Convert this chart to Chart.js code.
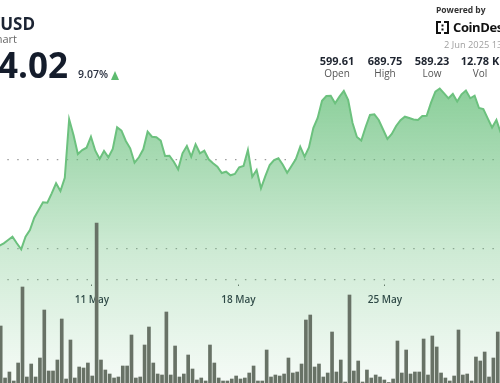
<!DOCTYPE html>
<html><head><meta charset="utf-8">
<script src="https://cdn.jsdelivr.net/npm/chart.js@4/dist/chart.umd.min.js"></script>
<style>
html,body{margin:0;padding:0;background:#fff;overflow:hidden;width:500px;height:383px;}
#wrap{position:relative;width:500px;height:383px;overflow:hidden;font-family:"Open Sans",sans-serif;line-height:1;}
#c{position:absolute;left:0;top:0;}
.t{position:absolute;white-space:nowrap;line-height:1;}
.val{position:absolute;width:50px;text-align:center;font-size:11px;font-weight:700;color:#1f2530;top:54.5px;}
.lab{position:absolute;width:50px;text-align:center;font-size:10px;color:#555;top:67.6px;}
</style></head><body>
<div id="wrap">
<canvas id="c" width="500" height="383"></canvas>
<div class="t" style="right:465px;top:15.3px;font-size:17px;font-weight:700;color:#1c2433;">BNB/USD</div>
<div class="t" style="right:483px;top:32.9px;font-size:11px;color:#666;">BNB Price Chart</div>
<div class="t" style="right:432px;top:47.2px;font-size:35px;font-weight:700;color:#141c2b;">654.02</div>
<div class="t" style="left:78px;top:69px;font-size:10.5px;font-weight:600;color:#2a3140;">9.07%</div>
<div class="t" style="left:111px;top:71px;width:0;height:0;border-left:4.5px solid transparent;border-right:4.5px solid transparent;border-bottom:9px solid #5dbb6f;"></div>
<div class="t" style="left:436px;top:5.8px;font-size:8.5px;font-weight:700;color:#333;">Powered by</div>
<svg class="t" style="left:436px;top:21px;" width="13" height="13" viewBox="0 0 13 13">
<rect x="0" y="0" width="2" height="13" fill="#111"/><rect x="0" y="0" width="5" height="2" fill="#111"/><rect x="0" y="11" width="5" height="2" fill="#111"/>
<rect x="11" y="0" width="2" height="13" fill="#111"/><rect x="8" y="0" width="5" height="2" fill="#111"/><rect x="8" y="11" width="5" height="2" fill="#111"/>
<rect x="5.5" y="3.5" width="2" height="2" fill="#111"/><rect x="5.5" y="7.5" width="2" height="2" fill="#111"/>
</svg>
<div class="t" style="left:453px;top:20.8px;font-size:13px;font-weight:700;color:#111;letter-spacing:-0.4px;">CoinDesk</div>
<div class="t" style="left:444px;top:40px;font-size:9.3px;color:#a0a0a0;">2 Jun 2025 13:00 UTC</div>
<div class="val" style="left:312px;">599.61</div>
<div class="val" style="left:360px;">689.75</div>
<div class="val" style="left:407px;">589.23</div>
<div class="val" style="left:455px;">12.78 K</div>
<div class="lab" style="left:312px;">Open</div>
<div class="lab" style="left:360px;">High</div>
<div class="lab" style="left:407px;">Low</div>
<div class="lab" style="left:455px;">Vol</div>
</div>
<script>
// ---- data ----
const HOUR = 3600e3;
const STEP_HOURS = 5;
const priceStart = Date.UTC(2025, 4, 6, 13, 48);   // first plotted price point
const volumeStart = Date.UTC(2025, 4, 6, 15, 18);  // first plotted volume bar
const prices = [
  601.46, 602.81, 604.66, 606.52, 602.81, 599.44, 606.52, 610.28, 617.19, 621.52,
  625.84, 625.62, 630.90, 636.52, 632.19, 639.66, 672.47, 663.65, 652.98, 655.22,
  656.52, 662.70, 654.83, 650.17, 654.66, 651.12, 655.79, 667.98, 666.07, 660.28,
  656.18, 648.09, 651.12, 655.62, 665.51, 662.70, 662.40, 660.45, 651.85, 652.02,
  648.65, 644.38, 653.37, 657.47, 651.46, 658.43, 653.37, 654.83, 650.00, 647.75,
  645.84, 642.30, 643.03, 641.01, 641.74, 645.51, 646.24, 655.22, 640.22, 643.99,
  633.71, 640.50, 646.80, 649.61, 650.56, 646.90, 642.47, 646.24, 650.10, 657.08,
  651.46, 656.63, 667.58, 673.20, 682.92, 685.56, 685.73, 681.46, 685.17, 688.37,
  683.31, 670.39, 662.53, 660.56, 668.15, 674.89, 675.28, 672.08, 666.74, 661.40,
  664.21, 668.71, 672.00, 673.93, 673.20, 672.36, 672.08, 674.33, 674.49, 681.80,
  687.98, 689.75, 687.08, 684.27, 686.69, 682.47, 686.50, 688.65, 684.30, 685.73,
  678.82, 678.26, 673.03, 667.87, 672.10, 664.78
];
const volumes = [
  57, 5, 11, 2, 20, 96, 6, 19, 6, 25,
  73, 12, 12, 23, 64, 4, 43, 5, 16, 15,
  20, 7, 160, 23, 13, 9, 5, 6, 17, 17,
  48, 5, 6, 38, 56, 20, 9, 8, 71, 8,
  37, 6, 9, 28, 14, 3, 5, 2, 38, 20,
  5, 2, 2, 4, 7, 4, 5, 10, 17, 2,
  2, 33, 6, 8, 7, 9, 25, 10, 11, 19,
  63, 68, 16, 19, 6, 10, 51, 11, 23, 1,
  88, 12, 22, 1, 13, 5, 8, 6, 3, 0.5,
  4, 42, 10, 33, 9, 11, 11, 44, 8, 47,
  36, 10, 5, 2, 7, 53, 8, 9, 2, 26,
  22, 31, 6, 25, 51, 12
];
const tickDates = [Date.UTC(2025, 4, 11), Date.UTC(2025, 4, 18), Date.UTC(2025, 4, 25)];
const tickLabels = ['11 May', '18 May', '25 May'];
const gridPrices = [600, 650];
const axisBasePrice = 582.6;

// visible window of the chart (data units)
const xMin = Date.UTC(2025, 4, 11) - 105.5 * HOUR;
const xMax = Date.UTC(2025, 4, 11) + 467.9 * HOUR;
const priceMin = 524.33, priceMax = 739.49;
const volMax = 383;

const priceData = prices.map((p, i) => ({x: priceStart + i * STEP_HOURS * HOUR, y: p}));
const volData = volumes.map((v, i) => ({x: volumeStart + i * STEP_HOURS * HOUR, y: v}));

const ctx = document.getElementById('c').getContext('2d');
new Chart(ctx, {
  type: 'line',
  data: {
    datasets: [
      {
        type: 'line', data: priceData, xAxisID: 'x', yAxisID: 'y',
        borderColor: '#6cc17e', borderWidth: 2, pointRadius: 0, tension: 0,
        fill: 'start', order: 2,
        backgroundColor: (c) => {
          const {ctx, chartArea} = c.chart;
          if (!chartArea) return 'rgba(0,0,0,0)';
          const g = ctx.createLinearGradient(0, chartArea.top, 0, chartArea.bottom);
          g.addColorStop(0.2, 'rgba(100,190,120,0.78)');
          g.addColorStop(0.65, 'rgba(100,190,120,0.32)');
          g.addColorStop(1, 'rgba(100,190,120,0.06)');
          return g;
        }
      },
      {
        type: 'bar', data: volData, xAxisID: 'x', yAxisID: 'yv',
        backgroundColor: '#687266', borderWidth: 0, barThickness: 3, order: 1
      }
    ]
  },
  options: {
    responsive: false, animation: false,
    layout: {padding: 0},
    plugins: {legend: {display: false}, tooltip: {enabled: false}},
    scales: {
      x: {
        type: 'linear', min: xMin, max: xMax, offset: false,
        position: {y: axisBasePrice},
        border: {display: false},
        grid: {drawOnChartArea: false, drawTicks: true, tickLength: 7, tickColor: '#666', tickWidth: 1,
               tickBorderDash: [1.5, 5.5], tickBorderDashOffset: 1.5, offset: false},
        afterBuildTicks: (s) => { s.ticks = tickDates.map(v => ({value: v})); },
        ticks: {
          autoSkip: false, maxRotation: 0, padding: 8, color: '#1f2838',
          font: {family: 'Open Sans', size: 10, weight: '600'},
          callback: (v, i) => tickLabels[i]
        }
      },
      y: {
        type: 'linear', min: priceMin, max: priceMax, position: 'left',
        afterBuildTicks: (s) => { s.ticks = gridPrices.concat([axisBasePrice]).map(v => ({value: v})); },
        afterFit: (s) => { s.width = 0; },
        ticks: {display: false},
        grid: {color: '#9c9c9c', lineWidth: 1.2, drawTicks: false},
        border: {display: false, dash: [1.5, 8.4], dashOffset: 2.6}
      },
      yv: {type: 'linear', min: 0, max: volMax, display: false}
    }
  }
});
</script>
</body></html>
